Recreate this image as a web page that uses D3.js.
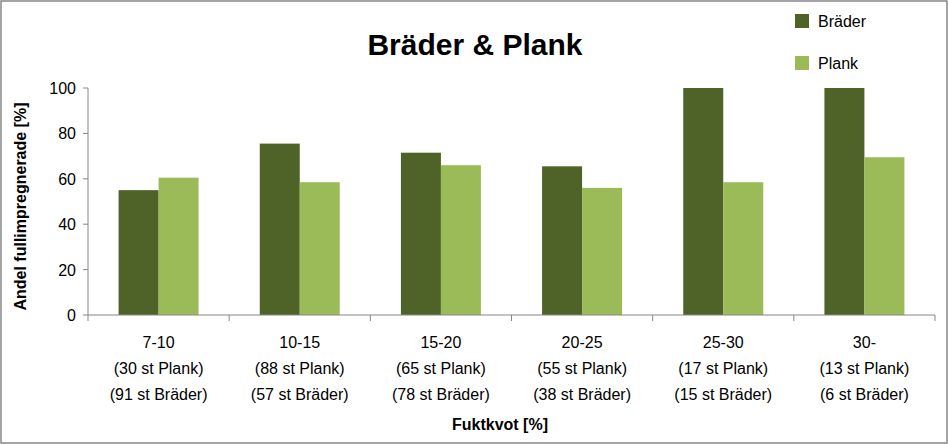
<!DOCTYPE html><html><head><meta charset="utf-8"><script src="https://d3js.org/d3.v7.min.js"></script>
<style>body{margin:0;background:#fff}text{font-family:"Liberation Sans",Arial,sans-serif}</style></head><body><svg id="c" width="948" height="444"></svg>
<script>
const categories=["7-10","10-15","15-20","20-25","25-30","30-"];
const plankCounts=["(30 st Plank)","(88 st Plank)","(65 st Plank)","(55 st Plank)","(17 st Plank)","(13 st Plank)"];
const braderCounts=["(91 st Bräder)","(57 st Bräder)","(78 st Bräder)","(38 st Bräder)","(15 st Bräder)","(6 st Bräder)"];
const brader=[55,75.5,71.5,65.5,100,100];
const plank=[60.5,58.5,66,56,58.5,69.5];
const yTicks=[0,20,40,60,80,100];
const seriesNames=["Bräder","Plank"];
const colors=["#4F6228","#9BBB59"];
const svg=d3.select("#c");
svg.append("rect").attr("x",1).attr("y",1).attr("width",946).attr("height",442).attr("fill","#fff").attr("stroke","#868686").attr("stroke-width",1.5);
const L=88,R=935,T=88,B=315;
const x=d3.scaleBand().domain(categories).range([L,R]);
const y=d3.scaleLinear().domain([0,100]).range([B,T]);
const bw=40;
categories.forEach((c,i)=>{
 const x0=x(c)+x.bandwidth()/2-bw;
 [brader[i],plank[i]].forEach((v,j)=>{
  svg.append("rect").attr("x",x0+j*bw).attr("y",y(v)).attr("width",bw).attr("height",B-y(v)).attr("fill",colors[j]);
 });
});
svg.append("line").attr("x1",L).attr("x2",L).attr("y1",T).attr("y2",B).attr("stroke","#868686");
svg.append("line").attr("x1",L).attr("x2",R).attr("y1",B).attr("y2",B).attr("stroke","#868686");
yTicks.forEach(t=>{
 svg.append("line").attr("x1",L-5).attr("x2",L).attr("y1",y(t)).attr("y2",y(t)).attr("stroke","#868686");
 svg.append("text").attr("x",L-12).attr("y",y(t)+6).attr("text-anchor","end").attr("font-size",16).text(t);
});
categories.forEach((c,i)=>{
 const xx=x(c);
 svg.append("line").attr("x1",xx).attr("x2",xx).attr("y1",B).attr("y2",B+6).attr("stroke","#868686");
 const cx=xx+x.bandwidth()/2;
 [c,plankCounts[i],braderCounts[i]].forEach((s,k)=>svg.append("text").attr("x",cx).attr("y",348+k*26).attr("text-anchor","middle").attr("font-size",16).text(s));
});
svg.append("line").attr("x1",R).attr("x2",R).attr("y1",B).attr("y2",B+6).attr("stroke","#868686");
svg.append("text").attr("x",475).attr("y",55).attr("text-anchor","middle").attr("font-size",30).attr("font-weight","bold").text("Bräder & Plank");
svg.append("text").attr("x",500).attr("y",430).attr("text-anchor","middle").attr("font-size",16).attr("font-weight","bold").text("Fuktkvot [%]");
svg.append("text").attr("transform","translate(26,"+((T+B)/2+5)+") rotate(-90)").attr("text-anchor","middle").attr("font-size",16).attr("font-weight","bold").text("Andel fullimpregnerade [%]");
seriesNames.forEach((n,i)=>{
 const ly=14+i*42;
 svg.append("rect").attr("x",795).attr("y",ly).attr("width",14).attr("height",14).attr("fill",colors[i]);
 svg.append("text").attr("x",818).attr("y",ly+13).attr("font-size",16).text(n);
});
</script></body></html>
